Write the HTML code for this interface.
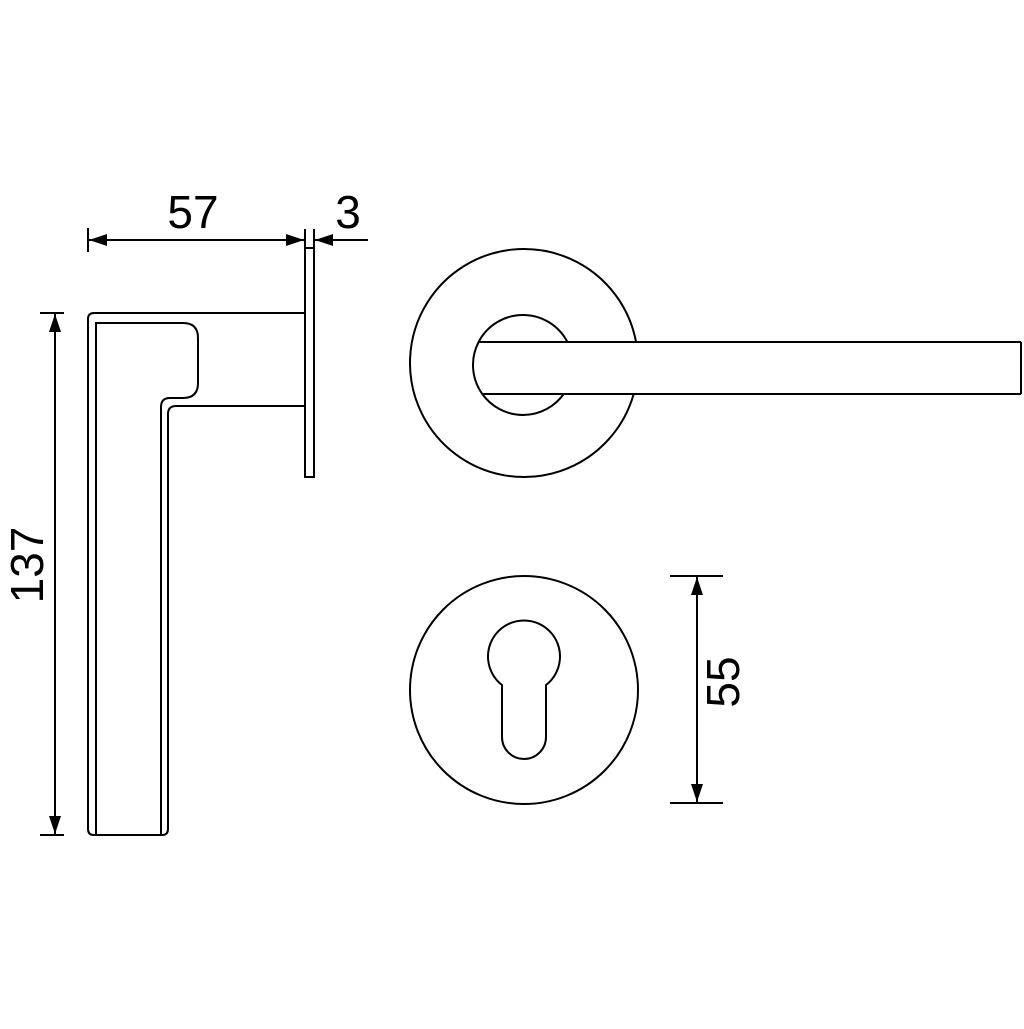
<!DOCTYPE html>
<html><head><meta charset="utf-8"><style>html,body{margin:0;padding:0;background:#fff}</style></head>
<body>
<svg width="1024" height="1024" viewBox="0 0 1024 1024" xmlns="http://www.w3.org/2000/svg">
<defs>
<marker id="a" viewBox="0 0 18 12" refX="18" refY="6" markerWidth="18" markerHeight="12" markerUnits="userSpaceOnUse" orient="auto-start-reverse"><path d="M0,0 L18,6 L0,12 z" fill="#000"/></marker>
</defs>
<g fill="none" stroke="#000" stroke-width="2">
<line x1="88" y1="228" x2="88" y2="252"/>
<line x1="305" y1="229" x2="305" y2="248"/>
<line x1="314" y1="229" x2="314" y2="248"/>
<line x1="89" y1="240" x2="304" y2="240" marker-start="url(#a)" marker-end="url(#a)"/>
<line x1="368" y1="240" x2="315" y2="240" marker-end="url(#a)"/>
<rect x="305" y="248" width="9" height="229"/>
<path d="M305,313 L94,313 Q88,313 88,319 L88,829 Q88,835 94,835 L162,835 Q168,835 168,829 L168,414 Q168,406 176,406 L305,406"/>
<path d="M96,835 L96,323 L183,323 Q198,323 198,338 L198,383 Q198,398 183,398 L170,398 Q161,398 161,407 L161,835"/>
<line x1="40" y1="313" x2="64" y2="313"/>
<line x1="40" y1="835" x2="64" y2="835"/>
<line x1="55" y1="314" x2="55" y2="834" marker-start="url(#a)" marker-end="url(#a)"/>
<path d="M636.05,342 A114,114 0 1 0 633.7,394"/>
<path d="M567.4,342 A50,50 0 0 0 478.6,342 A50,50 0 0 0 482.3,394 A50,50 0 0 0 563.7,394"/>
<line x1="478.6" y1="342" x2="1021" y2="342"/>
<line x1="482.3" y1="394" x2="1021" y2="394"/>
<line x1="1021" y1="342" x2="1021" y2="394"/>
<circle cx="524" cy="690" r="114"/>
<path d="M502,685 A36,36 0 1 1 546,685 L546,737 A22,22 0 0 1 502,737 Z"/>
<line x1="670" y1="576" x2="723" y2="576"/>
<line x1="670" y1="803" x2="723" y2="803"/>
<line x1="697" y1="577" x2="697" y2="802" marker-start="url(#a)" marker-end="url(#a)"/>
</g>
<g font-family="Liberation Sans, sans-serif" font-size="46" fill="#000" text-anchor="middle">
<text x="193" y="228">57</text>
<text x="348" y="228">3</text>
<text transform="translate(43,565) rotate(-90)">137</text>
<text transform="translate(739,682) rotate(-90)">55</text>
</g>
</svg>
</body></html>
